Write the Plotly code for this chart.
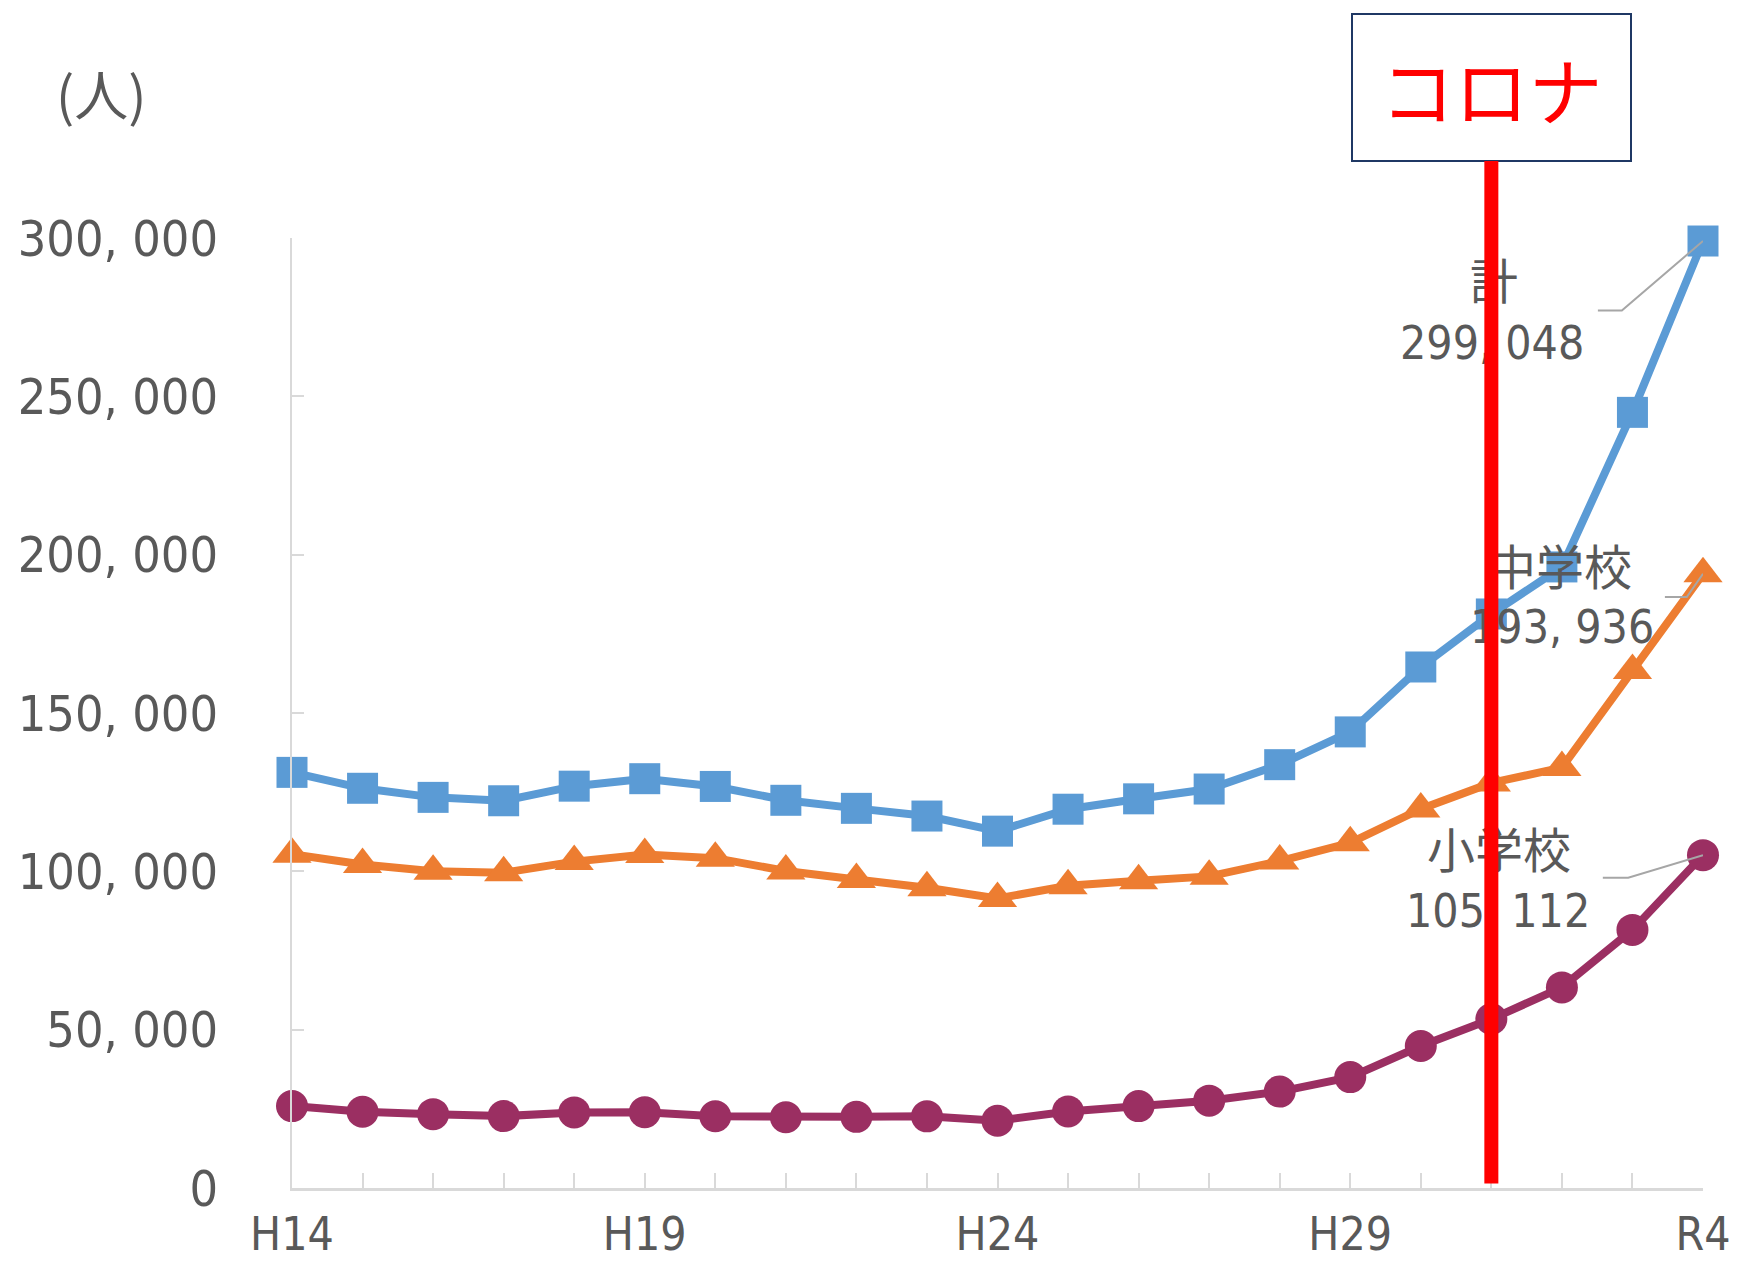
import plotly.graph_objects as go

# School years (Heisei -> Reiwa)
years = ["H14", "H15", "H16", "H17", "H18", "H19", "H20", "H21", "H22", "H23",
         "H24", "H25", "H26", "H27", "H28", "H29", "H30", "R1", "R2", "R3", "R4"]

# Number of students (人)
total = [131252, 126226, 123358, 122287, 126894, 129255, 126805, 122432, 119891, 117458,
         112689, 119617, 122897, 125991, 133683, 144031, 164528, 181272, 196127, 244940, 299048]
junior_high = [105383, 102149, 100040, 99578, 103069, 105328, 104153, 100105, 97428, 94836,
               91446, 95442, 97033, 98408, 103235, 108999, 119687, 127922, 132777, 163442, 193936]
elementary = [25869, 24077, 23318, 22709, 23825, 23927, 22652, 22327, 22463, 22622,
              21243, 24175, 25864, 27583, 30448, 35032, 44841, 53350, 63350, 81498, 105112]

y_tick_vals = [0, 50000, 100000, 150000, 200000, 250000, 300000]
y_tick_text = ["0", "50, 000", "100, 000", "150, 000", "200, 000", "250, 000", "300, 000"]
x_tick_text = [y if i % 5 == 0 else "" for i, y in enumerate(years)]

covid_year = "R1"

NUM_FONT = "DejaVu Sans Condensed, Liberation Sans Narrow, Noto Sans CJK JP, sans-serif"
CJK_FONT = "Noto Sans CJK JP, sans-serif"
GRAY_TEXT = "#595959"
AXIS_GRAY = "#d9d9d9"
LEADER_GRAY = "#a6a6a6"

x_idx = list(range(len(years)))

fig = go.Figure()

series = [
    ("計", total, "#5b9bd5", "square", 31),
    ("中学校", junior_high, "#ed7d31", "triangle-up", 34),
    ("小学校", elementary, "#9b2f62", "circle", 32),
]
for name, vals, color, symbol, msize in series:
    fig.add_trace(go.Scatter(
        x=x_idx, y=vals, name=name, mode="lines+markers",
        line=dict(color=color, width=8),
        marker=dict(symbol=symbol, size=msize, color=color),
        cliponaxis=False, showlegend=False,
    ))

last = len(years) - 1

# series labels with leader lines to the final point
labels = [
    # name, value, name pos (x, y), value pos (x, y), leader elbow points
    ("計", total[-1], (17.04, 287500), (17.01, 266700), [(18.51, 277100), (18.85, 277100)]),
    ("中学校", junior_high[-1], (17.97, 196900), (18.0, 177100), [(19.46, 186600), (19.77, 186600)]),
    ("小学校", elementary[-1], (17.11, 107700), (17.09, 87500), [(18.58, 97950), (18.94, 97950)]),
]

annotations = []
shapes = []
for name, val, npos, vpos, elbow in labels:
    annotations.append(dict(
        x=npos[0], y=npos[1], xref="x", yref="y", text=name, showarrow=False,
        font=dict(family=CJK_FONT, size=48, color=GRAY_TEXT),
        xanchor="center", yanchor="middle",
    ))
    annotations.append(dict(
        x=vpos[0], y=vpos[1], xref="x", yref="y",
        text=f"{val // 1000}, {val % 1000:03d}", showarrow=False,
        font=dict(family=NUM_FONT, size=46, color=GRAY_TEXT),
        xanchor="center", yanchor="middle",
    ))
    (x0, y0), (x1, y1) = elbow
    shapes.append(dict(
        type="path", xref="x", yref="y", layer="above",
        path=f"M {x0},{y0} L {x1},{y1} L {last},{val}",
        line=dict(color=LEADER_GRAY, width=2),
    ))

W, H = 1742, 1261
ML, MR, MT, MB = 292, 39, 237.5, 72.5


def px_to_paper(px, py):
    return (px - ML) / (W - ML - MR), 1 - (py - MT) / (H - MT - MB)


# unit label
ux, uy = px_to_paper(54, 92)
annotations.append(dict(
    x=ux, y=uy, xref="paper", yref="paper", text="(人)", showarrow=False,
    font=dict(family=CJK_FONT, size=54, color=GRAY_TEXT),
    xanchor="left", yanchor="middle",
))

# COVID marker: boxed label with a red vertical line down to the axis
annotations.append(dict(
    x=years.index(covid_year), y=1400, xref="x", yref="y",
    text="コロナ", showarrow=True, arrowhead=0, arrowwidth=14, arrowcolor="#ff0000",
    ax=0, ay=-1096, standoff=0,
    font=dict(family=CJK_FONT, size=74, color="#ff0000"),
    bgcolor="white", bordercolor="#1f3864", borderwidth=2, borderpad=0,
    width=277, height=145, align="center", valign="middle",
))

fig.update_layout(
    width=W, height=H,
    margin=dict(l=ML, r=MR, t=MT, b=MB),
    paper_bgcolor="white", plot_bgcolor="white",
    annotations=annotations, shapes=shapes,
    xaxis=dict(
        range=[0, last], tickvals=x_idx, ticktext=x_tick_text,
        showgrid=False, zeroline=False, automargin=False,
        showline=True, linecolor=AXIS_GRAY, linewidth=3,
        ticks="inside", ticklen=15, tickcolor=AXIS_GRAY, tickwidth=2,
        tickfont=dict(family=NUM_FONT, size=46, color=GRAY_TEXT),
        ticklabelstandoff=4,
    ),
    yaxis=dict(
        range=[0, 300000], tickvals=y_tick_vals, ticktext=y_tick_text,
        showgrid=False, zeroline=False, automargin=False,
        showline=True, linecolor=AXIS_GRAY, linewidth=2,
        ticks="inside", ticklen=12, tickcolor=AXIS_GRAY, tickwidth=2,
        tickfont=dict(family=NUM_FONT, size=50, color=GRAY_TEXT),
        ticklabelstandoff=62,
    ),
)

fig.write_html("out.html")
